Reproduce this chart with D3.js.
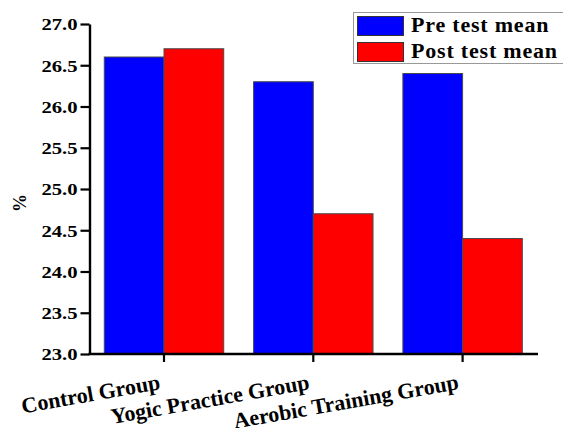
<!DOCTYPE html>
<html><head><meta charset="utf-8">
<script src="https://cdn.jsdelivr.net/npm/d3@7"></script>
<style>html,body{margin:0;padding:0;background:#fff;}svg{display:block;}</style>
</head><body>
<script>
const categories = ["Control Group", "Yogic Practice Group", "Aerobic Training Group"];
const preTest = [26.6, 26.3, 26.4];
const postTest = [26.7, 24.7, 24.4];
const seriesNames = ["Pre test mean", "Post test mean"];
const seriesColors = ["#0000ff", "#ff0000"];
const yTicks = [23.0, 23.5, 24.0, 24.5, 25.0, 25.5, 26.0, 26.5, 27.0];

const W = 563, H = 428;
const svg = d3.select("body").append("svg").attr("width", W).attr("height", H);
const font = "'Liberation Serif', 'Times New Roman', serif";

const y = d3.scaleLinear().domain([23, 27]).range([354, 24]);
const x = d3.scaleBand().domain(categories).range([89.35, 537.25]).paddingInner(0.2).paddingOuter(0.1);
const xs = d3.scaleBand().domain([0, 1]).range([0, x.bandwidth()]);

const data = [preTest, postTest];
categories.forEach((c, i) => {
  data.forEach((s, j) => {
    svg.append("rect")
      .attr("x", x(c) + xs(j)).attr("width", xs.bandwidth())
      .attr("y", y(s[i])).attr("height", y(23) - y(s[i]))
      .attr("fill", seriesColors[j]).attr("stroke", "#4a4a4a").attr("stroke-width", 1);
  });
});

// y axis
const yAxis = svg.append("g").attr("transform", "translate(89.5,0)")
  .call(d3.axisLeft(y).tickValues(yTicks).tickFormat(d3.format(".1f")).tickSize(9).tickSizeOuter(0));
yAxis.select(".domain").attr("stroke", "#000").attr("stroke-width", 2.4);
yAxis.selectAll(".tick line").attr("stroke", "#000").attr("stroke-width", 2.2);
yAxis.selectAll(".tick text").attr("font-family", font).attr("font-weight", "bold")
  .attr("font-size", 17.5).attr("fill", "#000")
  .attr("transform", "scale(1.18,1)").attr("x", -12 / 1.18).attr("dy", "0.34em");

// x axis
const xAxis = svg.append("g").attr("transform", "translate(0,354)");
xAxis.append("line").attr("x1", 88.5).attr("x2", 538).attr("y1", 0).attr("y2", 0)
  .attr("stroke", "#000").attr("stroke-width", 2.4);
categories.forEach(c => {
  const cx = x(c) + x.bandwidth() / 2;
  xAxis.append("line").attr("x1", cx).attr("x2", cx).attr("y1", 0).attr("y2", 8)
    .attr("stroke", "#000").attr("stroke-width", 2.2);
  svg.append("text").attr("transform", `translate(${cx - 3},389) rotate(-10)`)
    .attr("text-anchor", "end").attr("font-family", font).attr("font-weight", "bold")
    .attr("font-size", 22).attr("fill", "#000").text(c);
});

// y label
svg.append("text").attr("transform", "translate(26,203) rotate(-90)")
  .attr("text-anchor", "middle").attr("font-family", font).attr("font-weight", "bold")
  .attr("font-size", 18).attr("fill", "#000").text("%");

// legend
const lg = svg.append("g");
lg.append("rect").attr("x", 353.5).attr("y", 12.5).attr("width", 220).attr("height", 51)
  .attr("fill", "#fff").attr("stroke", "#999").attr("stroke-width", 1);
seriesNames.forEach((n, j) => {
  const yy = [16, 42][j];
  lg.append("rect").attr("x", 357.5).attr("y", yy + 0.5).attr("width", 46).attr("height", 19)
    .attr("fill", seriesColors[j]).attr("stroke", "#333").attr("stroke-width", 1);
  lg.append("text").attr("x", 411).attr("y", yy + 15.5).attr("font-family", font)
    .attr("font-weight", "bold").attr("font-size", 22).attr("letter-spacing", 0.8)
    .attr("fill", "#000").text(n);
});
</script>
</body></html>
